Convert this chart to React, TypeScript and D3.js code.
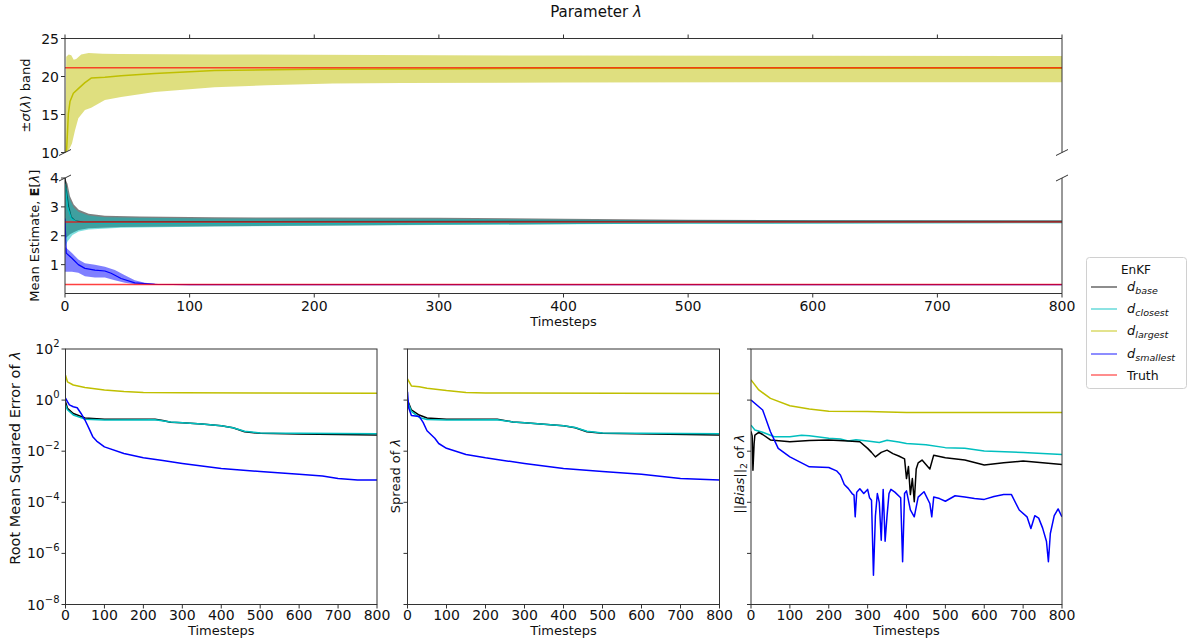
import React from "react";
import * as d3 from "d3";

type Pt = [number, number];

// ---- axis ticks ----
const timeTicks = [0, 100, 200, 300, 400, 500, 600, 700, 800];
const bandTicks = [10, 15, 20, 25];
const meanTicks = [1, 2, 3, 4];
const logTicks = [2, 0, -2, -4, -6, -8];

// ---- truth values ----
const truthLargest = 21.15;
const truthBase = 2.48;
const truthSmallest = 0.31;

// ---- top panel: d_largest band ----
const largestUpper: Pt[] = [[0, 10.5], [1, 22.6], [3, 22.9], [5, 22.8], [7, 22.2], [9, 22.3], [13, 22.9], [19, 23.1], [30, 23.0], [43, 22.95], [120, 22.9], [200, 22.85], [300, 22.8], [400, 22.75], [600, 22.72], [800, 22.7]];
const largestLower: Pt[] = [[0, 10.1], [3, 10.3], [5.6, 11.2], [8, 12.9], [10.7, 14.5], [16, 15.6], [21, 15.9], [32, 16.9], [45, 17.3], [72, 17.97], [120, 18.6], [162, 18.85], [215, 19.07], [270, 19.15], [400, 19.2], [600, 19.25], [800, 19.25]];
const largestMean: Pt[] = [[0, 10.0], [1.3, 10.3], [2.7, 15.1], [4, 16.7], [6.7, 17.8], [10.7, 18.4], [16, 19.2], [21, 19.8], [32, 19.9], [45, 20.1], [72, 20.4], [120, 20.8], [200, 20.95], [300, 21.0], [400, 21.08], [800, 21.1]];

// ---- middle panel: d_base, d_closest, d_smallest ----
const baseUpper: Pt[] = [[0, 4.0], [2, 3.8], [4, 3.37], [7, 3.08], [11, 2.9], [19, 2.76], [32, 2.69], [60, 2.67], [120, 2.64], [200, 2.63], [300, 2.62], [400, 2.59], [500, 2.55], [600, 2.54], [800, 2.53]];
const baseLower: Pt[] = [[0, 1.9], [4, 2.05], [7, 2.12], [11, 2.2], [19, 2.26], [45, 2.3], [120, 2.33], [300, 2.38], [500, 2.43], [800, 2.45]];
const baseMean: Pt[] = [[0, 4.0], [1, 3.6], [3, 3.0], [5, 2.65], [8, 2.52], [15, 2.47], [30, 2.48], [100, 2.49], [400, 2.5], [800, 2.5]];
const closestUpper: Pt[] = [[0, 3.9], [4, 3.25], [7, 2.98], [11, 2.82], [19, 2.7], [32, 2.64], [60, 2.62], [120, 2.6], [300, 2.59], [500, 2.53], [800, 2.52]];
const closestLower: Pt[] = [[0, 1.6], [2, 1.8], [6, 2.03], [11, 2.15], [19, 2.22], [45, 2.28], [120, 2.32], [300, 2.37], [500, 2.42], [800, 2.44]];
const closestMean: Pt[] = [[0, 3.8], [2, 3.0], [5, 2.6], [10, 2.45], [30, 2.44], [200, 2.44], [800, 2.45]];
const smallestUpper: Pt[] = [[0, 1.62], [5.6, 1.4], [10.7, 1.18], [16, 1.05], [24, 1.0], [32, 0.93], [40, 0.81], [48, 0.63], [56, 0.46], [64, 0.37], [75, 0.33], [90, 0.32], [800, 0.32]];
const smallestLower: Pt[] = [[0, 0.75], [5.6, 0.75], [10.7, 0.72], [16, 0.6], [24, 0.55], [32, 0.55], [40, 0.46], [48, 0.37], [56, 0.32], [70, 0.3], [800, 0.3]];
const smallestMean: Pt[] = [[0, 2.6], [1, 1.4], [5.6, 1.22], [10.7, 1.0], [16, 0.87], [24, 0.81], [32, 0.78], [37, 0.7], [45, 0.52], [56, 0.37], [72, 0.32], [100, 0.31], [800, 0.31]];

// ---- RMSE ----
const rmseLargest: Pt[] = [[0, 9.5], [5, 5.2], [20, 3.9], [50, 3.1], [100, 2.5], [150, 2.15], [200, 2.0], [300, 1.95], [500, 1.9], [800, 1.85]];
const rmseBase: Pt[] = [[0, 0.87], [5, 0.48], [20, 0.3], [50, 0.2], [100, 0.178], [230, 0.178], [250, 0.16], [270, 0.135], [300, 0.13], [350, 0.115], [400, 0.1], [430, 0.083], [460, 0.058], [500, 0.05], [600, 0.047], [800, 0.043]];
const rmseClosest: Pt[] = [[0, 0.65], [5, 0.42], [20, 0.26], [50, 0.18], [100, 0.166], [230, 0.17], [270, 0.14], [300, 0.13], [350, 0.115], [400, 0.1], [430, 0.083], [460, 0.06], [500, 0.052], [600, 0.05], [800, 0.048]];
const rmseSmallest: Pt[] = [[0, 1.2], [5, 0.87], [10, 0.65], [20, 0.55], [30, 0.5], [40, 0.3], [50, 0.166], [60, 0.08], [70, 0.037], [80, 0.025], [100, 0.0148], [150, 0.0081], [200, 0.0055], [250, 0.0043], [300, 0.0033], [400, 0.0021], [500, 0.0016], [600, 0.00126], [660, 0.00107], [700, 0.00085], [750, 0.00074], [800, 0.00074]];

// ---- Spread ----
const spreadLargest: Pt[] = [[0, 6.8], [10, 3.6], [30, 3.3], [50, 2.9], [100, 2.35], [150, 2.0], [200, 1.9], [800, 1.82]];
const spreadBase: Pt[] = [[0, 1.0], [10, 0.41], [30, 0.26], [50, 0.2], [100, 0.178], [230, 0.178], [270, 0.14], [300, 0.13], [400, 0.1], [430, 0.083], [460, 0.058], [500, 0.05], [800, 0.043]];
const spreadClosest: Pt[] = [[0, 0.9], [10, 0.36], [30, 0.21], [50, 0.175], [100, 0.168], [230, 0.17], [270, 0.14], [300, 0.13], [400, 0.1], [430, 0.085], [460, 0.06], [500, 0.052], [800, 0.048]];
const spreadSmallest: Pt[] = [[0, 2.1], [3, 0.5], [10, 0.25], [30, 0.23], [40, 0.135], [50, 0.063], [70, 0.032], [80, 0.02], [100, 0.013], [150, 0.0074], [200, 0.0055], [300, 0.0033], [400, 0.0021], [500, 0.0016], [600, 0.00126], [700, 0.00085], [800, 0.00074]];

// ---- Bias ----
const biasLargest: Pt[] = [[0, 6.2], [20, 2.5], [50, 1.17], [100, 0.6], [150, 0.45], [200, 0.37], [300, 0.355], [400, 0.325], [500, 0.325], [800, 0.33]];
const biasClosest: Pt[] = [[0, 0.105], [10, 0.068], [30, 0.055], [60, 0.037], [100, 0.037], [130, 0.042], [150, 0.04], [200, 0.032], [230, 0.03], [250, 0.025], [270, 0.028], [300, 0.025], [330, 0.022], [350, 0.027], [380, 0.023], [400, 0.02], [450, 0.018], [500, 0.0138], [550, 0.013], [600, 0.0102], [700, 0.0089], [800, 0.0074]];
const biasBase: Pt[] = [[0, 0.06], [3, 0.04], [5, 0.0018], [8, 0.02], [10, 0.043], [20, 0.055], [30, 0.045], [50, 0.0275], [100, 0.0234], [150, 0.026], [200, 0.0275], [250, 0.025], [280, 0.0234], [300, 0.0129], [310, 0.009], [320, 0.006], [335, 0.009], [350, 0.011], [365, 0.008], [380, 0.0065], [395, 0.005], [400, 0.00085], [405, 0.0025], [410, 0.0002], [415, 0.00085], [420, 0.000105], [425, 0.002], [430, 0.0035], [440, 0.0045], [450, 0.003], [460, 0.002], [470, 0.007], [500, 0.0055], [550, 0.0045], [600, 0.0029], [650, 0.0035], [700, 0.0041], [750, 0.0035], [800, 0.003]];
const biasSmallest: Pt[] = [[0, 1.0], [30, 0.41], [50, 0.058], [70, 0.0129], [100, 0.006], [130, 0.0035], [150, 0.00245], [200, 0.0023], [220, 0.0017], [230, 0.00117], [240, 0.0005], [250, 0.00035], [260, 0.00022], [265, 0.00019], [268, 0.000027], [272, 0.00025], [280, 0.00034], [290, 0.00022], [300, 0.00032], [305, 0.00015], [310, 0.00012], [315, 1.4e-7], [320, 0.000029], [325, 0.00022], [330, 0.0001], [335, 3.3e-6], [340, 0.00032], [345, 3e-6], [350, 0.00003], [355, 0.00022], [360, 0.00032], [370, 0.00025], [385, 0.00015], [390, 4.7e-7], [395, 0.00022], [400, 0.00028], [410, 0.00005], [420, 0.000027], [430, 0.00016], [445, 0.00026], [460, 0.00009], [465, 0.000027], [470, 0.00016], [485, 0.00014], [500, 0.00011], [525, 0.00018], [550, 0.00016], [575, 0.00014], [600, 0.00013], [625, 0.00017], [650, 0.0002], [670, 0.0002], [690, 0.00005], [710, 0.000027], [720, 0.0000094], [730, 0.00003], [740, 0.000024], [750, 0.00001], [760, 3e-6], [765, 4.7e-7], [770, 6e-6], [780, 0.00003], [790, 0.000055], [800, 0.000027]];

const C = { base: "#000000", closest: "#00bfbf", largest: "#bfbf00", smallest: "#0000ff", truth: "#ff0000" };
const FONT = "'DejaVu Sans', sans-serif";
const SPINE = "#333";
const TICK_FS = 14;
const LABEL_FS = 13;

const xMain = d3.scaleLinear().domain([0, 800]).range([65, 1062]);
const yBand = d3.scaleLinear().domain([10, 25]).range([152.5, 38.5]);
const yMean = d3.scaleLinear().domain([0, 4]).range([293.5, 178]);
const yLog = d3.scaleLog().domain([1e-8, 1e2]).range([604.5, 349]);
const xPanels = [[65.5, 377], [407.5, 719.5], [751, 1062]].map((r) => d3.scaleLinear().domain([0, 800]).range(r));

function lineOf(x: any, y: any) {
  return d3.line<Pt>().x((d) => x(d[0])).y((d) => y(d[1]));
}

function Band({ x, y, upper, lower, color, op = 0.5 }: any) {
  const poly = [...upper, ...lower.slice().reverse()];
  return <path d={lineOf(x, y)(poly) + "Z"} fill={color} fillOpacity={op} stroke="none" />;
}

function Line({ x, y, data, color, w = 1.5, op = 1 }: any) {
  return <path d={lineOf(x, y)(data) || ""} fill="none" stroke={color} strokeWidth={w} strokeOpacity={op} strokeLinejoin="round" />;
}

function BreakMark({ cx, cy }: { cx: number; cy: number }) {
  return <line x1={cx - 6} y1={cy + 3} x2={cx + 6} y2={cy - 3} stroke={SPINE} strokeWidth={1} />;
}

function XAxisBottom({ x, y0, labelY, title }: any) {
  return (
    <g>
      <line x1={x.range()[0]} x2={x.range()[1]} y1={y0} y2={y0} stroke={SPINE} />
      {timeTicks.map((t) => (
        <g key={t}>
          <line x1={x(t)} x2={x(t)} y1={y0} y2={y0 + 4} stroke={SPINE} />
          <text x={x(t)} y={y0 + labelY} textAnchor="middle" fontSize={TICK_FS}>{t}</text>
        </g>
      ))}
      <text x={(x.range()[0] + x.range()[1]) / 2} y={y0 + labelY + 15} textAnchor="middle" fontSize={LABEL_FS}>{title}</text>
    </g>
  );
}

function LogPanel({ i, series, ylabel, labelCy, labelX, labelFs = LABEL_FS }: any) {
  const x = xPanels[i];
  const [x0, x1] = x.range();
  const [yb, yt] = yLog.range();
  const id = `clipLog${i}`;
  return (
    <g>
      <clipPath id={id}><rect x={x0} y={yt} width={x1 - x0} height={yb - yt} /></clipPath>
      <g clipPath={`url(#${id})`}>
        {series.map((s: any, k: number) => (
          <Line key={k} x={x} y={yLog} data={s.data} color={s.color} w={1.5} />
        ))}
      </g>
      <rect x={x0} y={yt} width={x1 - x0} height={yb - yt} fill="none" stroke={SPINE} strokeWidth={1} />
      {logTicks.map((e) => (
        <g key={e}>
          <line x1={x0 - 4} x2={x0} y1={yLog(Math.pow(10, e))} y2={yLog(Math.pow(10, e))} stroke={SPINE} />
          {i === 0 && (
            <text x={x0 - 6} y={yLog(Math.pow(10, e)) + 5} textAnchor="end" fontSize={TICK_FS}>
              10<tspan fontSize={10} dy={-7}>{e < 0 ? "\u2212" + -e : e}</tspan>
            </text>
          )}
        </g>
      ))}
      <XAxisBottom x={x} y0={yb} labelY={15} title="Timesteps" />
      <text transform={`translate(${labelX},${labelCy}) rotate(-90)`} textAnchor="middle" fontSize={labelFs}>
        {ylabel}
      </text>
    </g>
  );
}

function Legend() {
  const items = [
    { color: C.base, sub: "base" },
    { color: C.closest, sub: "closest" },
    { color: C.largest, sub: "largest" },
    { color: C.smallest, sub: "smallest" },
    { color: C.truth, sub: "" },
  ];
  const ys = [287, 309, 331, 354, 375];
  return (
    <g>
      <rect x={1086.5} y={257.5} width={100} height={131} rx={3} fill="#fff" stroke="#d0d0d0" />
      <text x={1136} y={274} textAnchor="middle" fontSize={12}>EnKF</text>
      {items.map((it, k) => (
        <g key={k}>
          <line x1={1091} x2={1117} y1={ys[k]} y2={ys[k]} stroke={it.color} strokeWidth={1.5} strokeOpacity={0.6} />
          {it.sub ? (
            <text x={1127} y={ys[k] + 4} fontSize={13}>
              <tspan fontStyle="italic">d</tspan>
              <tspan fontStyle="italic" fontSize={9.5} dy={3}>{it.sub}</tspan>
            </text>
          ) : (
            <text x={1127} y={ys[k] + 5} fontSize={12.5}>Truth</text>
          )}
        </g>
      ))}
    </g>
  );
}

export default function App() {
  const [xl, xr] = xMain.range();
  const [bandB, bandT] = yBand.range();
  const [meanB, meanT] = yMean.range();
  return (
    <svg width={1189} height={644} style={{ position: "absolute", left: 0, top: 0, background: "#fff" }}
      fontFamily={FONT} fill="#111">
      <text x={596} y={17} textAnchor="middle" fontSize={15}>
        Parameter <tspan fontStyle="italic">λ</tspan>
      </text>

      {/* top panel */}
      <clipPath id="clipTop"><rect x={xl} y={bandT} width={xr - xl} height={bandB - bandT} /></clipPath>
      <g clipPath="url(#clipTop)">
        <Band x={xMain} y={yBand} upper={largestUpper} lower={largestLower} color={C.largest} />
        <Line x={xMain} y={yBand} data={largestMean} color={C.largest} w={1.5} />
        <Line x={xMain} y={yBand} data={[[0, truthLargest], [800, truthLargest]]} color={C.truth} w={1.5} op={0.7} />
      </g>
      <line x1={xl} x2={xr} y1={bandT} y2={bandT} stroke={SPINE} />
      <line x1={xl} x2={xl} y1={bandT} y2={bandB} stroke={SPINE} />
      <line x1={xr} x2={xr} y1={bandT} y2={bandB} stroke={SPINE} />
      {timeTicks.map((t) => <line key={t} x1={xMain(t)} x2={xMain(t)} y1={bandT} y2={bandT - 4} stroke={SPINE} />)}
      {bandTicks.map((v) => (
        <g key={v}>
          <line x1={xl - 4} x2={xl} y1={yBand(v)} y2={yBand(v)} stroke={SPINE} />
          <text x={xl - 6} y={yBand(v) + 5} textAnchor="end" fontSize={TICK_FS}>{v}</text>
        </g>
      ))}
      <BreakMark cx={xl} cy={bandB} />
      <BreakMark cx={xr} cy={bandB} />
      <text transform={`translate(30,${(bandT + bandB) / 2}) rotate(-90)`} textAnchor="middle" fontSize={LABEL_FS}>
        ±<tspan fontStyle="italic">σ</tspan>(<tspan fontStyle="italic">λ</tspan>) band
      </text>

      {/* middle panel */}
      <clipPath id="clipMid"><rect x={xl} y={meanT} width={xr - xl} height={meanB - meanT} /></clipPath>
      <g clipPath="url(#clipMid)">
        <Band x={xMain} y={yMean} upper={baseUpper} lower={baseLower} color={C.base} />
        <Line x={xMain} y={yMean} data={baseMean} color={C.base} w={1.2} />
        <Band x={xMain} y={yMean} upper={closestUpper} lower={closestLower} color={C.closest} />
        <Line x={xMain} y={yMean} data={closestMean} color={C.closest} w={1.2} />
        <Band x={xMain} y={yMean} upper={smallestUpper} lower={smallestLower} color={C.smallest} />
        <Line x={xMain} y={yMean} data={smallestMean} color={C.smallest} w={1.2} />
        <Line x={xMain} y={yMean} data={[[0, truthBase], [800, truthBase]]} color={C.truth} w={1.5} op={0.75} />
        <Line x={xMain} y={yMean} data={[[0, truthSmallest], [800, truthSmallest]]} color={C.truth} w={1.5} op={0.75} />
      </g>
      <line x1={xl} x2={xl} y1={meanT} y2={meanB} stroke={SPINE} />
      <line x1={xr} x2={xr} y1={meanT} y2={meanB} stroke={SPINE} />
      {meanTicks.map((v) => (
        <g key={v}>
          <line x1={xl - 4} x2={xl} y1={yMean(v)} y2={yMean(v)} stroke={SPINE} />
          <text x={xl - 6} y={yMean(v) + 5} textAnchor="end" fontSize={TICK_FS}>{v}</text>
        </g>
      ))}
      <BreakMark cx={xl} cy={meanT} />
      <BreakMark cx={xr} cy={meanT} />
      <XAxisBottom x={xMain} y0={meanB} labelY={17} title="Timesteps" />
      <text transform={`translate(39,${(meanT + meanB) / 2}) rotate(-90)`} textAnchor="middle" fontSize={LABEL_FS}>
        Mean Estimate, <tspan fontWeight="bold">E</tspan>[<tspan fontStyle="italic">λ</tspan>]
      </text>

      {/* bottom panels */}
      <LogPanel i={0} labelCy={458} labelX={20} labelFs={14.5}
        ylabel={<>Root Mean Squared Error of <tspan fontStyle="italic">λ</tspan></>}
        series={[
          { data: rmseLargest, color: C.largest },
          { data: rmseBase, color: C.base },
          { data: rmseClosest, color: C.closest },
          { data: rmseSmallest, color: C.smallest },
        ]} />
      <LogPanel i={1} labelCy={476} labelX={400}
        ylabel={<>Spread of <tspan fontStyle="italic">λ</tspan></>}
        series={[
          { data: spreadLargest, color: C.largest },
          { data: spreadBase, color: C.base },
          { data: spreadClosest, color: C.closest },
          { data: spreadSmallest, color: C.smallest },
        ]} />
      <LogPanel i={2} labelCy={474} labelX={744}
        ylabel={<>||<tspan fontStyle="italic">Bias</tspan>||<tspan fontSize={9.5} dy={3}>2</tspan><tspan dy={-3}> of </tspan><tspan fontStyle="italic">λ</tspan></>}
        series={[
          { data: biasLargest, color: C.largest },
          { data: biasClosest, color: C.closest },
          { data: biasBase, color: C.base },
          { data: biasSmallest, color: C.smallest },
        ]} />

      <Legend />
    </svg>
  );
}
